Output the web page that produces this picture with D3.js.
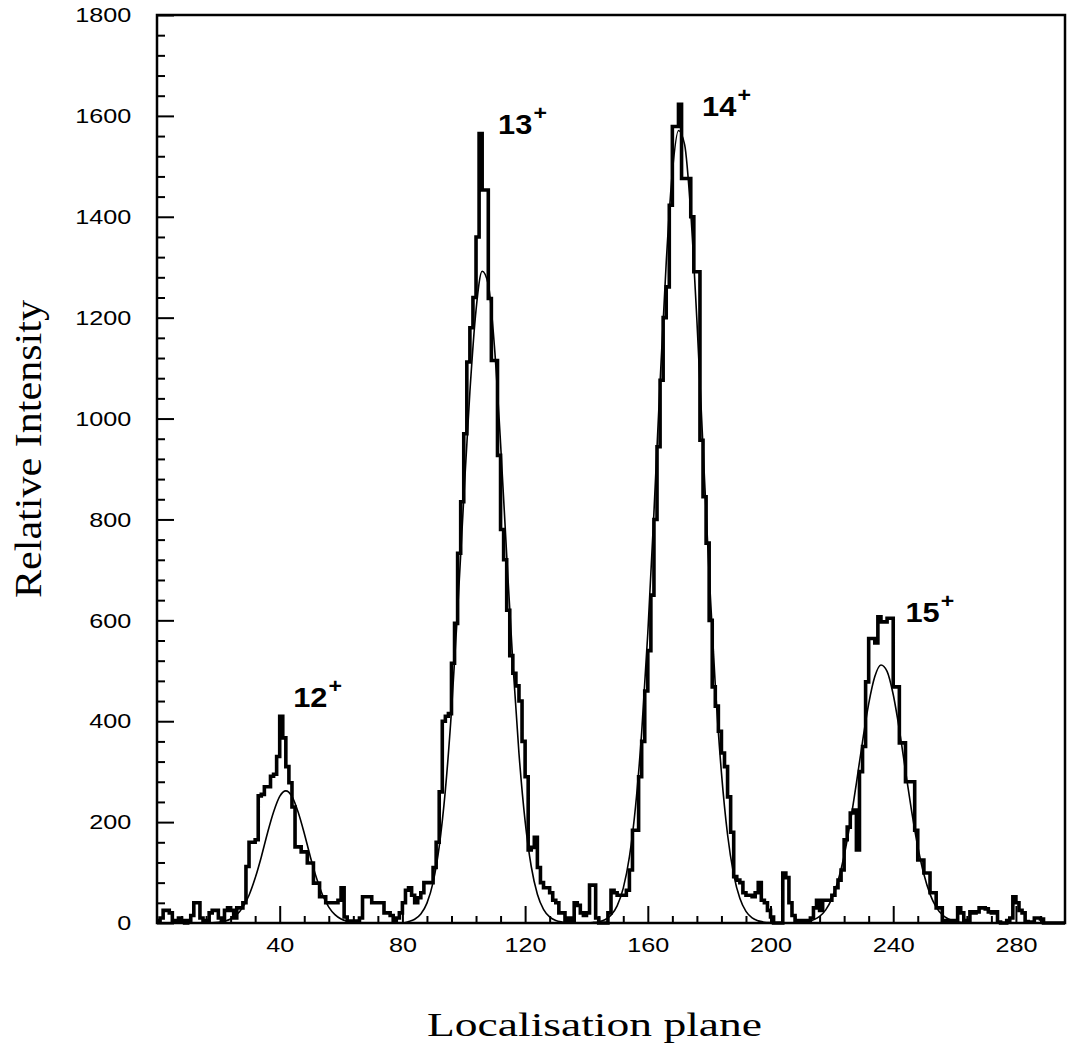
<!DOCTYPE html>
<html><head><meta charset="utf-8">
<script src="https://cdn.jsdelivr.net/npm/d3@7"></script>
<style>body{margin:0;background:#fff} svg{display:block}</style>
</head><body>
<svg id="chart" width="1070" height="1052"></svg>
<script>
// Histogram counts, one bin per unit of localisation plane (bin i covers [i, i+1))
const histogram = [
  5,10,25,25,20,5,5,10,5,0,
  5,15,40,40,10,5,5,20,25,25,
  10,5,25,30,25,10,30,30,40,112,
  160,160,165,252,255,270,270,291,295,330,
  410,367,310,278,230,151,151,141,141,119,
  119,79,79,52,52,40,40,40,40,45,
  70,12,4,4,4,4,10,52,52,52,
  40,40,40,40,20,20,15,5,10,20,
  40,65,70,55,40,50,60,80,80,80,
  110,160,260,400,410,415,515,594,733,835,
  970,1112,1180,1240,1360,1565,1453,1453,1238,1115,
  1115,927,780,720,620,530,495,470,440,360,
  290,145,150,170,110,80,70,70,60,45,
  40,20,20,5,10,5,40,35,20,15,
  20,75,75,10,0,0,0,20,65,60,
  55,55,55,65,105,184,184,290,360,460,
  540,650,800,944,1076,1200,1261,1423,1579,1579,
  1623,1476,1476,1476,1400,1291,1291,957,845,753,
  600,468,430,380,337,310,250,180,92,85,
  80,60,55,55,52,60,80,45,40,25,
  12,0,0,0,99,90,40,15,5,2,
  5,3,5,10,30,45,25,45,45,45,
  55,70,85,105,165,190,218,224,145,300,
  350,478,564,564,555,607,597,597,604,604,
  468,468,357,357,280,280,280,184,125,125,
  99,99,60,60,30,30,5,5,3,5,
  5,30,20,5,5,22,20,22,30,30,
  28,22,20,22,2,0,0,5,10,52,
  40,25,20,3,2,2,10,10,8,0,
  0,0,0,0,0,0
];

// Fitted curve
const fitX = [0,18,20,22,24,26,28,30,32,34,36,38,40,42,44,46,48,50,52,54,56,58,60,62,64,66,68,
  80,82,84,86,88,90,92,94,96,98,100,102,104,106,108,110,112,114,116,118,120,122,124,126,128,130,132,134,136,138,
  140,142,144,146,148,150,152,154,156,158,160,162,164,166,168,170,172,174,176,178,180,182,184,186,188,190,192,194,196,198,200,202,
  208,210,212,214,216,218,220,222,224,226,228,230,232,234,236,238,240,242,244,246,248,250,252,254,256,258,260,262,264,266,296];
const fitY = [0,0.5,1.4,3.5,7.9,16.5,31.5,55,89,131,178,220,251,262,251,220,178,131,89,55,31.5,16.5,7.9,3.5,1.4,0.5,0,
  0,2.8,7.4,17.8,39.4,80.5,151.6,263,420.5,619.6,841.5,1053,1215,1292,1266,1143,951,729,516,336,202,112,57,27,12,5,2,0.6,0.3,0,
  0.3,1,2.6,6.6,15.5,33.9,69.1,131,231,378,575,814,1071,1309,1488,1571,1543,1408,1195,942,691,471,298,175,96,49,23,10,4.2,1.6,0.6,0,
  0.4,1.1,2.7,6.2,13.1,26.1,48.2,83.1,133.4,199.4,277.5,359.8,434.4,488.5,511.6,499,453,383.5,302,221.9,151.7,96.5,57.2,31.6,16.3,7.8,3.5,1.4,0.5,0,0];

const xMajorTicks = [40,80,120,160,200,240,280];
const yMajorTicks = [0,200,400,600,800,1000,1200,1400,1600,1800];
const peakNames = ["12","13","14","15"];
const xTitle = "Localisation plane";
const yTitle = "Relative Intensity";

// annotation anchors (data units) for the peak labels
const peakAnchorX = [44.4, 111.2, 177.7, 244];
const peakAnchorY = [428, 1565, 1600, 597];

const svg = d3.select("#chart");
const x = d3.scaleLinear().domain([0, 296]).range([157, 1065]);
const y = d3.scaleLinear().domain([0, 1800]).range([923, 15]);

const xMinor = d3.range(8, 296, 8).filter(v => v % 40 !== 0);
const yMinor = d3.range(40, 1800, 40).filter(v => v % 200 !== 0);

const tickFont = "'Liberation Sans', Arial, Helvetica, sans-serif";
const fmt = d3.format("d");

// minor ticks
svg.append("g").attr("transform", `translate(0,${y(0)})`)
  .call(d3.axisBottom(x).tickValues(xMinor).tickSize(-7).tickSizeOuter(0).tickFormat(""))
  .call(g => g.select(".domain").remove())
  .call(g => g.selectAll("line").attr("stroke", "#000").attr("stroke-width", 2));
svg.append("g").attr("transform", `translate(${x(0)},0)`)
  .call(d3.axisLeft(y).tickValues(yMinor).tickSize(-8).tickSizeOuter(0).tickFormat(""))
  .call(g => g.select(".domain").remove())
  .call(g => g.selectAll("line").attr("stroke", "#000").attr("stroke-width", 2));

// major ticks and labels
svg.append("g").attr("transform", `translate(0,${y(0)})`)
  .call(d3.axisBottom(x).tickValues(xMajorTicks).tickSize(-17).tickSizeOuter(0).tickPadding(14).tickFormat(fmt))
  .call(g => g.select(".domain").remove())
  .call(g => g.selectAll("line").attr("stroke", "#000").attr("stroke-width", 2))
  .call(g => g.selectAll("text").attr("fill", "#000").attr("font-family", tickFont)
     .attr("font-size", 21).attr("transform", "scale(1.2,1)"));
svg.append("g").attr("transform", `translate(${x(0)},0)`)
  .call(d3.axisLeft(y).tickValues(yMajorTicks).tickSize(-17).tickSizeOuter(0).tickPadding(21.5).tickFormat(fmt))
  .call(g => g.select(".domain").remove())
  .call(g => g.selectAll("line").attr("stroke", "#000").attr("stroke-width", 2))
  .call(g => g.selectAll("text").attr("fill", "#000").attr("font-family", tickFont)
     .attr("font-size", 21).attr("transform", "scale(1.2,1)"));

// frame
svg.append("rect")
  .attr("x", x(0)).attr("y", y(1800))
  .attr("width", x(296) - x(0)).attr("height", y(0) - y(1800))
  .attr("fill", "none").attr("stroke", "#000").attr("stroke-width", 2.5);

// histogram
const histPts = histogram.map((v, i) => [i, v]);
histPts.push([histogram.length, histogram[histogram.length - 1]]);
svg.append("path")
  .datum(histPts)
  .attr("fill", "none").attr("stroke", "#000").attr("stroke-width", 3.6)
  .attr("stroke-linejoin", "miter")
  .attr("d", d3.line().x(d => x(d[0])).y(d => y(d[1])).curve(d3.curveStepAfter));

// fit curve
svg.append("path")
  .datum(fitX.map((v, i) => [v, fitY[i]]))
  .attr("fill", "none").attr("stroke", "#000").attr("stroke-width", 1.6)
  .attr("d", d3.line().x(d => x(d[0])).y(d => y(d[1])).curve(d3.curveMonotoneX));

// peak labels
peakNames.forEach((n, i) => {
  const g = svg.append("g")
    .attr("transform", `translate(${x(peakAnchorX[i])},${y(peakAnchorY[i])}) scale(1.1,1)`);
  const t = g.append("text").attr("font-family", tickFont).attr("font-weight", "bold")
    .attr("font-size", 28).attr("fill", "#000");
  t.append("tspan").text(n);
  t.append("tspan").attr("dy", -14).attr("dx", 1).attr("font-size", 21).text("+");
});

// axis titles
svg.append("text")
  .attr("x", 427).attr("y", 1036)
  .attr("font-family", "'Liberation Serif', 'Times New Roman', serif")
  .attr("font-size", 33).attr("fill", "#000")
  .attr("textLength", 335).attr("lengthAdjust", "spacingAndGlyphs")
  .text(xTitle);
svg.append("text")
  .attr("transform", "translate(41,449) rotate(-90)")
  .attr("text-anchor", "middle")
  .attr("font-family", "'Liberation Serif', 'Times New Roman', serif")
  .attr("font-size", 38).attr("fill", "#000")
  .attr("textLength", 298).attr("lengthAdjust", "spacingAndGlyphs")
  .text(yTitle);
</script>
</body></html>
